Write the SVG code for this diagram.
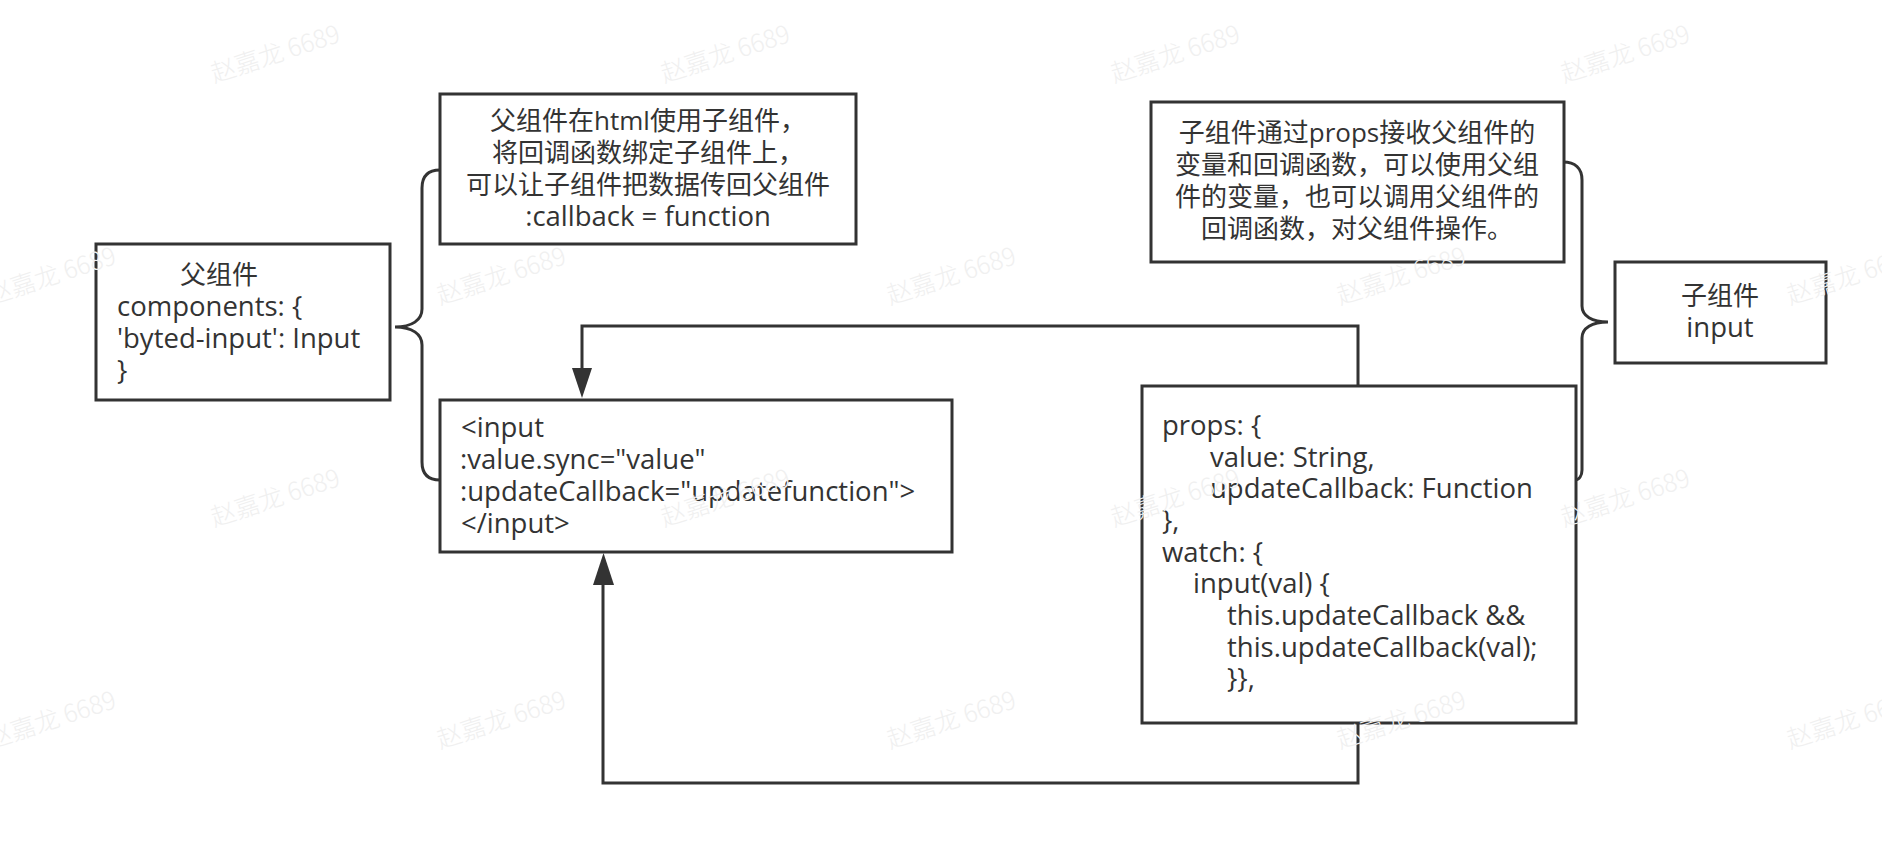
<svg xmlns="http://www.w3.org/2000/svg" width="1882" height="846" viewBox="0 0 1882 846">
<style>
.box{fill:#fff;stroke:#333;stroke-width:3}
.t{font-family:"Open Sans","Noto Sans CJK SC",sans-serif;font-size:26px;fill:#333}
.l{font-size:27.5px}
.c{text-anchor:middle}
.ln{fill:none;stroke:#333;stroke-width:3}
.wm{font-family:"Noto Sans CJK SC",sans-serif;font-size:25px;font-weight:300;fill:#f0f0f0;text-anchor:middle}
</style>
<rect width="1882" height="846" fill="#fff"/>

<g id="connectors">
<path class="ln" d="M1358,385 V326 H582 V370" />
<path d="M572,368 L592,368 L582,398 Z" fill="#333"/>
<path class="ln" d="M1358,724 V783 H603 V582" />
<path d="M593,585 L614,585 L603.5,553 Z" fill="#333"/>
<path class="ln" d="M440,170 C428,170 422,176 422,188 V309 C422,320 412,327 395,327 C412,327 422,334 422,345 V462 C422,474 428,480 440,480"/>
<path class="ln" d="M1563,162 C1575,162 1582,168 1582,180 V306 C1582,316 1592,322 1608,322 C1592,322 1582,328 1582,338 V470 C1582,476 1579,480 1575,480"/>
</g>

<g id="parent">
<rect class="box" x="96" y="244" width="294" height="156"/>
<text class="t" x="180" y="284">父组件</text>
<text class="t l" x="117" y="316">components: {</text>
<text class="t l" x="117" y="348">'byted-input': Input</text>
<text class="t l" x="117" y="380">}</text>
</g>

<g id="note-parent">
<rect class="box" x="440" y="94" width="416" height="150"/>
<text class="t c" x="648" y="130">父组件在html使用子组件，</text>
<text class="t c" x="648" y="162">将回调函数绑定子组件上，</text>
<text class="t c" x="648" y="194">可以让子组件把数据传回父组件</text>
<text class="t c l" x="648" y="226">:callback = function</text>
</g>

<g id="input-tag">
<rect class="box" x="440" y="400" width="512" height="152"/>
<text class="t l" x="461" y="437">&lt;input</text>
<text class="t l" x="460" y="469">:value.sync="value"</text>
<text class="t l" x="460" y="501">:updateCallback="updatefunction"&gt;</text>
<text class="t l" x="461" y="533">&lt;/input&gt;</text>
</g>

<g id="note-child">
<rect class="box" x="1151" y="102" width="413" height="160"/>
<text class="t c" x="1357" y="142">子组件通过props接收父组件的</text>
<text class="t c" x="1357" y="174">变量和回调函数，可以使用父组</text>
<text class="t c" x="1357" y="206">件的变量，也可以调用父组件的</text>
<text class="t c" x="1357" y="238">回调函数，对父组件操作。</text>
</g>

<g id="child">
<rect class="box" x="1615" y="262" width="211" height="101"/>
<text class="t c" x="1720" y="305">子组件</text>
<text class="t c l" x="1720" y="337">input</text>
</g>

<g id="props">
<rect class="box" x="1142" y="386" width="434" height="337"/>
<text class="t l" x="1162" y="435">props: {</text>
<text class="t l" x="1210" y="467">value: String,</text>
<text class="t l" x="1210" y="498">updateCallback: Function</text>
<text class="t l" x="1162" y="530">},</text>
<text class="t l" x="1162" y="562">watch: {</text>
<text class="t l" x="1193" y="593">input(val) {</text>
<text class="t l" x="1227" y="625">this.updateCallback &amp;&amp;</text>
<text class="t l" x="1227" y="657">this.updateCallback(val);</text>
<text class="t l" x="1227" y="688">}},</text>
</g>

<g id="watermarks">
<text class="wm" transform="translate(278,62) rotate(-18)">赵嘉龙 6689</text>
<text class="wm" transform="translate(728,62) rotate(-18)">赵嘉龙 6689</text>
<text class="wm" transform="translate(1178,62) rotate(-18)">赵嘉龙 6689</text>
<text class="wm" transform="translate(1628,62) rotate(-18)">赵嘉龙 6689</text>
<text class="wm" transform="translate(54,284) rotate(-18)">赵嘉龙 6689</text>
<text class="wm" transform="translate(504,284) rotate(-18)">赵嘉龙 6689</text>
<text class="wm" transform="translate(954,284) rotate(-18)">赵嘉龙 6689</text>
<text class="wm" transform="translate(1404,284) rotate(-18)">赵嘉龙 6689</text>
<text class="wm" transform="translate(1854,284) rotate(-18)">赵嘉龙 6689</text>
<text class="wm" transform="translate(278,506) rotate(-18)">赵嘉龙 6689</text>
<text class="wm" transform="translate(728,506) rotate(-18)">赵嘉龙 6689</text>
<text class="wm" transform="translate(1178,506) rotate(-18)">赵嘉龙 6689</text>
<text class="wm" transform="translate(1628,506) rotate(-18)">赵嘉龙 6689</text>
<text class="wm" transform="translate(54,728) rotate(-18)">赵嘉龙 6689</text>
<text class="wm" transform="translate(504,728) rotate(-18)">赵嘉龙 6689</text>
<text class="wm" transform="translate(954,728) rotate(-18)">赵嘉龙 6689</text>
<text class="wm" transform="translate(1404,728) rotate(-18)">赵嘉龙 6689</text>
<text class="wm" transform="translate(1854,728) rotate(-18)">赵嘉龙 6689</text>
</g>
</svg>
